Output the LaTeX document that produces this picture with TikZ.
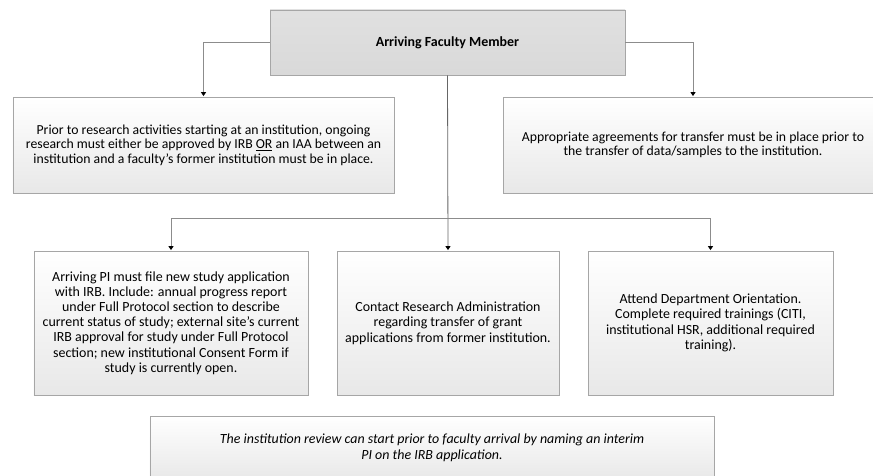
\documentclass[tikz,border=0pt]{standalone}
\usepackage{fontspec}
\setmainfont{Carlito}
\usetikzlibrary{arrows.meta,shadows}

\begin{document}
\begin{tikzpicture}[x=1bp,y=-1bp,
  box/.style={draw=black!35, line width=0.8bp, top color=white, bottom color=black!9,
    drop shadow={shadow xshift=1.3bp, shadow yshift=-1.3bp, fill=black!45, opacity=0.5},
    align=center, inner sep=0pt, font=\fontsize{13.8}{14.6}\selectfont},
  lowbox/.style={box, font=\fontsize{14}{15.6}\selectfont},
  headbox/.style={box, top color=black!12, bottom color=black!15},
  link/.style={draw=black!45, line width=0.8bp},
  arrowlink/.style={link, -{Triangle[width=5bp,length=4bp,color=black]}, shorten >=0.5bp},
]
% page frame
\path[use as bounding box, clip] (0,0) rectangle (873,476);
\fill[white] (0,0) rectangle (873,476);

% header
\node[headbox, minimum width=355bp, minimum height=65bp, font=\fontsize{14}{16}\selectfont\bfseries]
  (head) at (447.5,42.5) {Arriving Faculty Member};

% first row
\node[box, minimum width=381bp, minimum height=96bp] (irb) at (203.5,145)
  {Prior to research activities starting at an institution, ongoing\\
   research must either be approved by IRB \underline{OR} an IAA between an\\
   institution and a faculty’s former institution must be in place.};
\node[box, minimum width=380bp, minimum height=96bp] (agree) at (693,145)
  {Appropriate agreements for transfer must be in place prior to\\
   the transfer of data/samples to the institution.};

% second row
\node[lowbox, minimum width=274bp, minimum height=144bp, font=\fontsize{14}{15.2}\selectfont] (pi) at (171,323)
  {Arriving PI must file new study application\\
   with IRB. Include: annual progress report\\
   under Full Protocol section to describe\\
   current status of study; external site’s current\\
   IRB approval for study under Full Protocol\\
   section; new institutional Consent Form if\\
   study is currently open.};
\node[lowbox, minimum width=222bp, minimum height=144bp] (grant) at (448,323)
  {Contact Research Administration\\
   regarding transfer of grant\\
   applications from former institution.};
\node[lowbox, minimum width=245bp, minimum height=144bp] (orient) at (710.5,323)
  {Attend Department Orientation.\\
   Complete required trainings (CITI,\\
   institutional HSR, additional required\\
   training).};

% note
\node[lowbox, minimum width=564bp, minimum height=64bp, font=\fontsize{14}{16}\selectfont\itshape]
  (note) at (432,448)
  {The institution review can start prior to faculty arrival by naming an interim\\
   PI on the IRB application.};

% connectors
\coordinate (bus) at (447.5,218);
\draw[arrowlink] (head.west) -| (irb.north);
\draw[arrowlink] (head.east) -| (agree.north);
\draw[arrowlink, draw=black!60] (head.south) -- (grant.north);
\draw[arrowlink] (bus) -| (pi.north);
\draw[arrowlink] (bus) -| (orient.north);
\end{tikzpicture}
\end{document}
